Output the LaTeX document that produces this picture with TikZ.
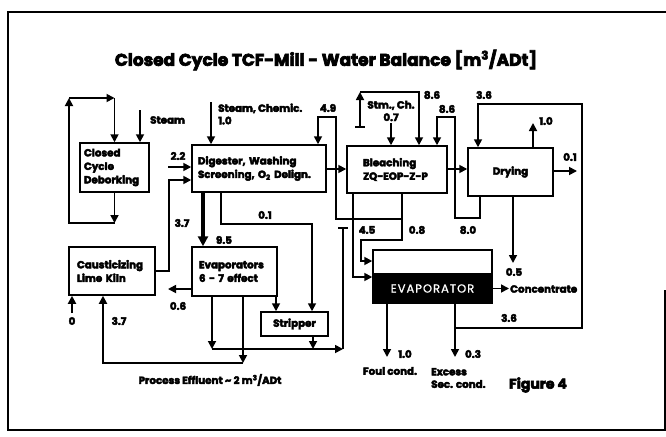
\documentclass[tikz,border=0pt]{standalone}
\usepackage{fontspec}
\setmainfont{Poppins}[BoldFeatures={FakeBold=4}]
\usetikzlibrary{arrows.meta}
\begin{document}
\begin{tikzpicture}[x=1pt,y=-1pt,
  box/.style={draw, line width=1.5pt, inner sep=0pt, font=\bfseries\fontsize{10.3}{13.5}\selectfont},
  ln/.style={line width=1.7pt},
  arr/.style={ln, -{Triangle[length=8pt,width=8pt]}},
  lbl/.style={inner sep=0pt, font=\bfseries\fontsize{10.3}{12.5}\selectfont}]
\useasboundingbox (0,0) rectangle (666,436);
% frame
\draw[line width=2pt] (665,290) -- (665,430) -- (8,430) -- (8,12) -- (666,12);
% title
\node[font=\bfseries\fontsize{17}{19}\selectfont] (title) at (326,60) {Closed Cycle TCF-Mill - Water Balance [m\textsuperscript{3}/ADt]};
% boxes
\node[box, minimum width=69pt, minimum height=49pt, text width=61pt, align=left] (deb) at (114.5,167.5) {Closed\\Cycle\\Deborking};
\node[box, minimum width=134pt, minimum height=47pt, text width=122pt, align=left] (dig) at (259,168.5) {Digester, Washing\\Screening, O\textsubscript{2} Delign.};
\node[box, minimum width=100pt, minimum height=47pt, text width=68pt, align=left] (ble) at (397,169.5) {Bleaching\\ZQ-EOP-Z-P};
\node[box, minimum width=85pt, minimum height=48pt, align=center] (dry) at (510.5,172) {Drying};
\node[box, minimum width=86pt, minimum height=48pt, text width=70pt, align=left] (cau) at (112,271) {Causticizing\\Lime Kiln};
\node[box, minimum width=85pt, minimum height=49pt, text width=71pt, align=left] (evs) at (234.5,271.5) {Evaporators\\6 - 7 effect};
\node[box, minimum width=67pt, minimum height=24pt, align=center] (str) at (294.5,324) {Stripper};
\node[draw, line width=1.5pt, minimum width=119pt, minimum height=24pt, inner sep=0pt] (evtop) at (432.5,262) {};
\node[draw, line width=1.5pt, fill=black, text=white, minimum width=119pt, minimum height=29pt, inner sep=0pt, font=\fontsize{11.5}{13}\selectfont] (evbot) at (432.5,288.5) {\addfontfeature{LetterSpace=9,FakeBold=1}EVAPORATOR};
% deborking loop
\coordinate (l1) at (114.5,223);
\coordinate (l2) at (69,223);
\coordinate (l3) at (69,98);
\coordinate (l4) at (114.5,98);
\draw[arr] (deb.south) -- (l1);
\draw[arr] (l1) -- (l2) -- (l3);
\draw[arr] (l3) -- (l4);
\draw[arr] (l4) -- (deb.north);
\coordinate (st) at (140,110);
\draw[arr] (st) -- (deb.north -| st);
\node[lbl, anchor=west] (lsteam) at (150,120) {Steam};
% digester inputs
\coordinate (sc) at (211,102);
\draw[arr] (sc) -- (dig.north -| sc);
\node[lbl, anchor=west, align=left] (lsc) at (218,114) {Steam, Chemic.\\1.0};
\coordinate (i22) at (168,167);
\draw[arr] (i22) -- (dig.west |- i22);
\node[lbl] (l22) at (178,156) {2.2};
\draw[arr] (cau.east) -- (169,271) -- (169,180) -- (dig.west |- 0,180);
\node[lbl] (l37a) at (182,223) {3.7};
\draw[line width=3.2pt, -{Triangle[length=10pt,width=10pt]}] (dig.south -| 203,0) -- (evs.north -| 203,0);
\node[lbl] (l95) at (224,240) {9.5};
\draw[arr] (dig.south -| 221,0) -- (221,224) -- (312,224) -- (str.north -| 312,0);
\node[lbl] (l01a) at (265,215) {0.1};
% 4.9 loop
\coordinate (j1) at (402,219);
\draw[arr] (j1) -- (336,219) -- (336,117) -- (318,117) -- (dig.north -| 318,0);
\node[lbl] (l49) at (328,108) {4.9};
\draw[arr] (dig.east |- 0,169) -- (ble.west |- 0,169);
% bleaching outputs
\draw[arr] (ble.south -| 402,0) -- (402,240) -- (361,240) -- (361,261) -- (evtop.west |- 0,261);
\node[lbl] (l08) at (417,230) {0.8};
\draw[arr] (ble.south -| 353,0) -- (353,277) -- (evbot.west |- 0,277);
\node[lbl] (l45) at (367,230) {4.5};
% stm ch
\coordinate (sm) at (360,127);
\draw[ln] (355,127) -- (365,127);
\draw[arr] (sm) -- (360,92);
\draw[arr] (360,92) -- (419,92) -- (ble.north -| 419,0);
\node[lbl, align=center] (lstm) at (391,111) {Stm., Ch.\\0.7};
\draw[arr] (391,123) -- (ble.north -| 391,0);
\node[lbl] (l86a) at (432,95) {8.6};
% 8.6 / 8.0 loop
\draw[arr] (dry.south -| 480,0) -- (480,218) -- (455,218) -- (455,117) -- (437,117) -- (ble.north -| 437,0);
\node[lbl] (l86b) at (447,109) {8.6};
\node[lbl] (l80) at (468,230) {8.0};
\draw[arr] (ble.east |- 0,169) -- (dry.west |- 0,169);
% drying outputs
\draw[arr] (dry.north -| 533,0) -- (533,123);
\node[lbl] (l10a) at (546,121) {1.0};
\draw[arr] (dry.east |- 0,171) -- (577,171);
\node[lbl] (l01b) at (570,157) {0.1};
\draw[arr] (dry.south -| 513,0) -- (513,263);
\node[lbl] (l05) at (514,272) {0.5};
% 3.6 loop
\draw[arr] (evbot.south -| 455,0) -- (455,328) -- (582,328) -- (582,104) -- (478,104) -- (dry.north -| 478,0);
\node[lbl] (l36a) at (484,95) {3.6};
\node[lbl] (l36b) at (509,318) {3.6};
\draw[arr] (455,328) -- (455,357);
\node[lbl] (l03) at (473,354) {0.3};
\node[lbl, anchor=west, align=left] (lexc) at (431,378) {Excess\\Sec. cond.};
\draw[arr] (evbot.south -| 387,0) -- (387,357);
\node[lbl] (l10b) at (405,354) {1.0};
\node[lbl] (lfoul) at (390,371) {Foul cond.};
\draw[arr] (evbot.east) -- (509,288.5);
\node[lbl, anchor=west] (lconc) at (510,289) {Concentrate};
% evaporators outputs
\draw[arr] (evs.west |- 0,289) -- (168,289);
\node[lbl] (l06) at (178,306) {0.6};
\draw[arr] (evs.south -| 276,0) -- (str.north -| 276,0);
\draw[arr] (evs.south -| 212,0) -- (212,349);
\draw[arr] (212,349) -- (343,349);
\draw[ln] (343,349) -- (343,228);
\draw[ln] (338,228) -- (348,228);
\draw[arr] (str.south -| 313,0) -- (313,349);
\draw[arr] (evs.south -| 243,0) -- (243,363);
\draw[arr] (243,363) -- (103,363) -- (cau.south -| 103,0);
\node[lbl] (l37b) at (119,321) {3.7};
\draw[arr] (72,313) -- (cau.south -| 72,0);
\node[lbl] (l0) at (72,321) {0};
\node[lbl] (leff) at (210,380) {Process Effluent \textasciitilde{} 2 m\textsuperscript{3}/ADt};
\node[font=\bfseries\fontsize{14}{16}\selectfont] (lfig) at (538,385) {Figure 4};
\end{tikzpicture}
\end{document}
